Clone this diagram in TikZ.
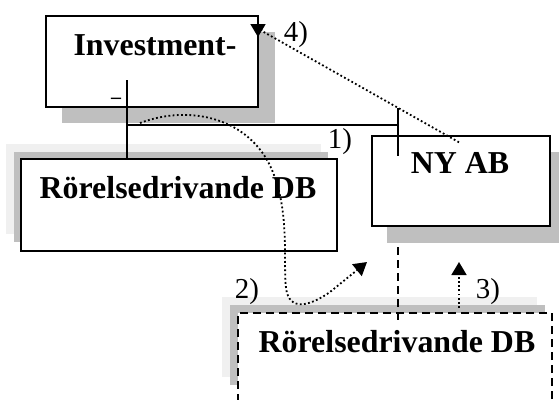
\documentclass[tikz,border=0pt]{standalone}
\usepackage{fontspec}
\setmainfont{Liberation Serif}
\usetikzlibrary{arrows.meta}
\begin{document}
\begin{tikzpicture}[x=1bp, y=-1bp,
  box/.style={draw, line width=1.4bp, fill=white, inner sep=0pt},
  boxtext/.style={font=\fontsize{32}{36}\selectfont\bfseries, anchor=base, inner sep=0pt},
  steplabel/.style={font=\fontsize{29}{32}\selectfont, anchor=base, inner sep=0pt},
  conn/.style={line width=1.4bp},
  flow/.style={line width=1.8bp, dash pattern=on 1.8bp off 2.4bp, -{Triangle[length=13bp, width=15bp]}},
  darksh/.style={fill=black!25},
  lightsh/.style={fill=black!6}]

  % Canvas
  \useasboundingbox (0,0) rectangle (559,399);
  \clip (0,0) rectangle (559,399);
  \fill[white] (0,0) rectangle (559,399);

  % Shadows
  \fill[darksh] (62,32) rectangle (275,123);
  \fill[lightsh] (6,144) rectangle (321,234);
  \fill[darksh] (14,152) rectangle (328,242);
  \fill[darksh] (387,152) rectangle (566,243);
  \fill[lightsh] (222,297) rectangle (537,377);
  \fill[darksh] (230,305) rectangle (545,385);

  % Boxes
  \node[box, minimum width=212bp, minimum height=91bp] (inv) at (152,61.5) {};
  \node[boxtext] (invtxt) at (155,55) {Investment-};
  \node[font=\fontsize{20}{20}\selectfont\bfseries, inner sep=0pt] (invcut) at (116,101) {--};

  \node[box, minimum width=316bp, minimum height=92bp] (rdb) at (179,205) {};
  \node[boxtext] (rdbtxt) at (178,198) {Rörelsedrivande DB};

  \node[box, minimum width=178bp, minimum height=90bp] (nyab) at (461,181) {};
  \node[boxtext] (nyabtxt) at (460,173) {NY AB};

  \node[box, dashed, dash pattern=on 8bp off 5bp, minimum width=314bp, minimum height=110bp] (rdbny) at (395,368) {};
  \node[boxtext] (rdbnytxt) at (397,352) {Rörelsedrivande DB};

  % Ownership lines
  \coordinate (j1) at (127,125);
  \coordinate (j2) at (398,125);
  \coordinate (invin) at (127,80);
  \coordinate (nytop) at (398,108);
  \coordinate (nyin) at (398,156);
  \coordinate (shbot) at (398,247);
  \coordinate (dbin) at (398,322);
  \draw[conn] (invin) -- (j1 |- rdb.north);
  \draw[conn] (j1) -- (j2);
  \draw[conn] (nytop) -- (nyin);
  \draw[conn, dashed, dash pattern=on 8bp off 5bp] (shbot) -- (dbin);

  % Steps
  \coordinate (s2) at (140,123);
  \coordinate (e2) at (367,262);
  \coordinate (s3) at (459,308);
  \coordinate (e3) at (459,262);
  \coordinate (b4) at (262,31);
  \coordinate (e4) at (258,37);
  \draw[flow] (s2) .. controls (190,104) and (250,118) .. (272,170)
    .. controls (290,212) and (283,262) .. (286,288)
    .. controls (289,312) and (310,306) .. (330,292) -- (e2);
  \draw[flow] (s3) -- (e3);
  \draw[flow] ([xshift=-2bp,yshift=-7bp]nyab.north) -- (b4) -- (258,23) -- (e4);

  % Step labels
  \node[steplabel] (l1) at (340,148) {1)};
  \node[steplabel] (l2) at (247,298) {2)};
  \node[steplabel] (l3) at (488,298) {3)};
  \node[steplabel] (l4) at (296,41) {4)};
\end{tikzpicture}
\end{document}
